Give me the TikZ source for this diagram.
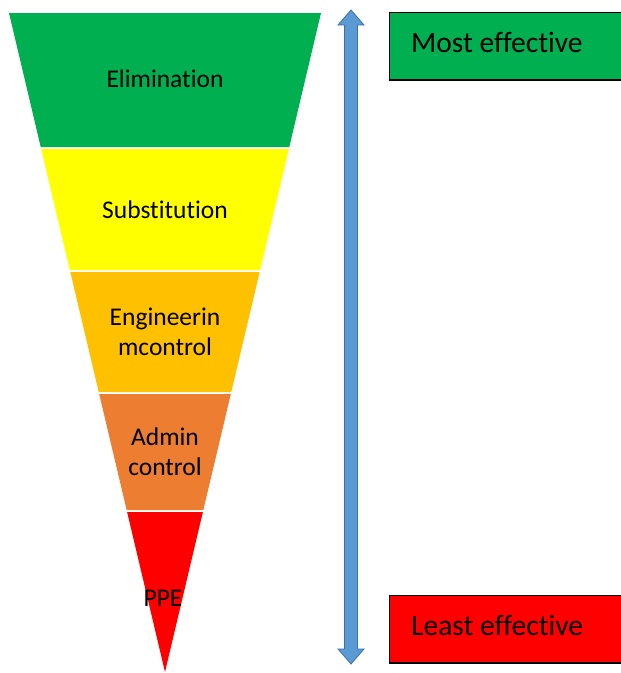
\documentclass[tikz,border=0pt]{standalone}
\usepackage{fontspec}
\setmainfont{Carlito}[Ligatures=CommonOff]
\usepackage{xcolor}
\usetikzlibrary{positioning}

\definecolor{elimgreen}{HTML}{00B050}
\definecolor{subyellow}{HTML}{FFFF00}
\definecolor{enggold}{HTML}{FFC000}
\definecolor{adminorange}{HTML}{ED7D31}
\definecolor{ppered}{HTML}{FF0000}
\definecolor{arrowblue}{HTML}{5B9BD5}
\definecolor{arrowedge}{HTML}{41719C}

\begin{document}
\begin{tikzpicture}[x=1pt,y=-1pt,
	level/.style={inner sep=0pt,align=center,font=\fontsize{25.5}{30}\selectfont},
	rating/.style={inner sep=0pt,anchor=west,font=\fontsize{29.5}{34}\selectfont},
	ratingbox/.style={draw=black,line width=1.2pt}]
	\useasboundingbox (0,0) rectangle (621,673);

	% funnel, half width shrinks to the tip at (165,672)
	\foreach \ytop/\ybot/\col in {13/147/elimgreen,149/270/subyellow,272/392/enggold,394/510/adminorange,512/672/ppered}{
		\pgfmathsetmacro{\wt}{0.23672*(672-\ytop)}
		\pgfmathsetmacro{\wb}{0.23672*(672-\ybot)}
		\fill[\col] (165-\wt,\ytop) -- (165+\wt,\ytop) -- (165+\wb,\ybot) -- (165-\wb,\ybot) -- cycle;
	}

	\node [level] at (165,79) (elim) {Elimination};
	\node [level] at (165,210) (subst) {Substitution};
	\node [level] at (165,332) (eng) {Engineerin\\mcontrol};
	\node [level] at (165,452) (admin) {Admin\\control};
	\node [level] at (163,598) (ppe) {PPE};

	% double arrow
	\filldraw[fill=arrowblue,draw=arrowedge,line width=0.8pt]
	(351,10) -- (364,25) -- (357.5,25) -- (357.5,649) -- (364,649) -- (351,664)
	-- (338,649) -- (344.5,649) -- (344.5,25) -- (338,25) -- cycle;

	\filldraw[ratingbox,fill=elimgreen] (389.5,12.5) rectangle (630,80);
	\filldraw[ratingbox,fill=ppered] (389.5,595.5) rectangle (630,663);
	\node [rating] at (411,42) (most) {Most effective};
	\node [rating] at (411,625) (least) {Least effective};
\end{tikzpicture}
\end{document}
